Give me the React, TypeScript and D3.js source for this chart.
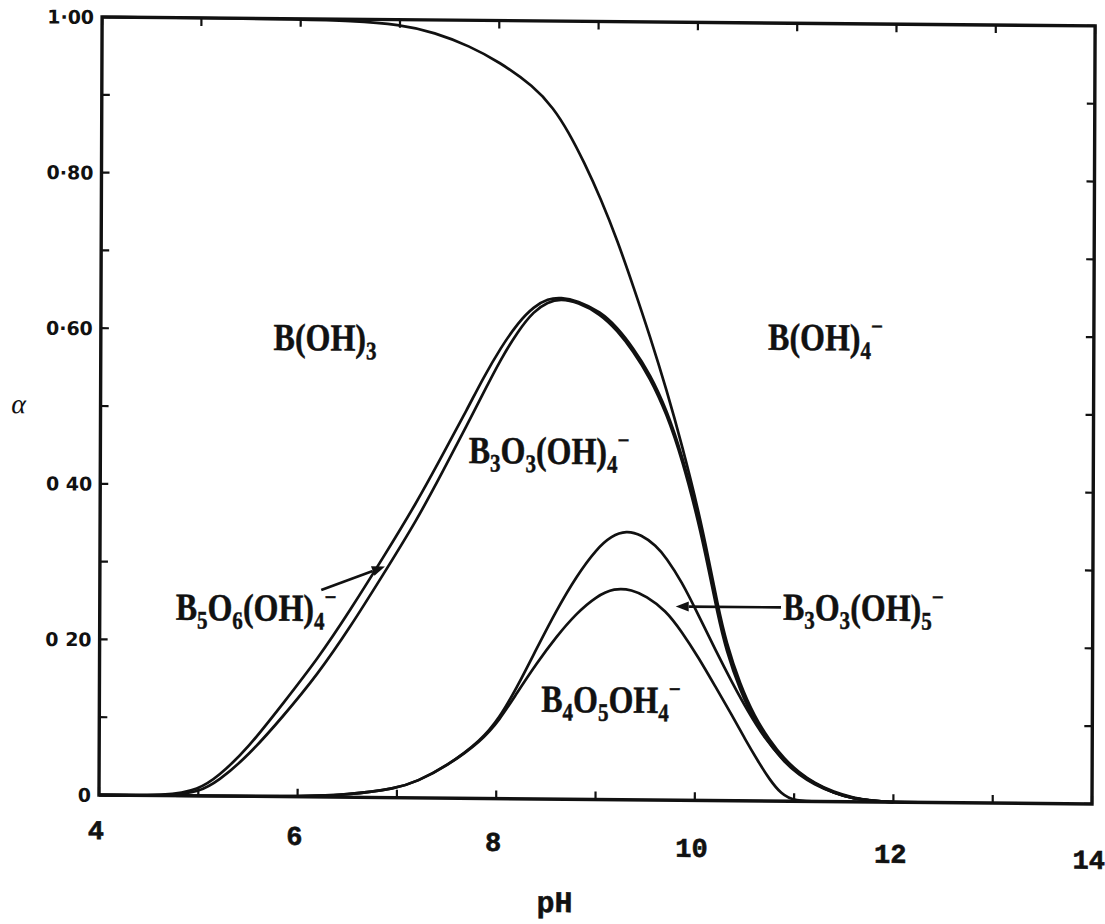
import React from "react";
import * as d3 from "d3";

// ---------- data ----------
const X_DOMAIN: [number, number] = [4, 14];
const Y_DOMAIN: [number, number] = [0, 1];
const xTickValues = d3.range(4, 15, 1);
const xLabelValues = [4, 6, 8, 10, 12, 14];
const yTickValues = d3.range(0, 11).map((i) => i / 10);
const yLabelValues = [1, 0.8, 0.6, 0.4, 0.2, 0];
const yLabelTexts = ["1·00", "0·80", "0·60", "0 40", "0 20", "0"];
const xAxisTitle = "pH";
const yAxisTitle = "α";

// B(OH)3 boundary
const boricAcid: [number, number][] = [
  [4.0, 1.0], [5.0, 1.0], [6.0, 0.999], [6.5, 0.998], [7.0, 0.994], [7.35, 0.984],
  [7.7, 0.967], [8.0, 0.947], [8.35, 0.916], [8.55, 0.888], [8.7, 0.858],
  [8.86, 0.819], [9.03, 0.772], [9.2, 0.718], [9.36, 0.66], [9.53, 0.596],
  [9.7, 0.527], [9.86, 0.455], [10.03, 0.37], [10.13, 0.31], [10.22, 0.253],
  [10.31, 0.203], [10.45, 0.15], [10.6, 0.108], [10.75, 0.078], [10.9, 0.054],
  [11.05, 0.037], [11.2, 0.024], [11.4, 0.012], [11.6, 0.005], [11.8, 0.0015],
  [12.0, 0], [12.3, 0],
];

// B5O6(OH)4- (outer line of the double curve)
const pentaborate: [number, number][] = [
  [4.0, 0], [4.7, 0], [5.0, 0.008], [5.2, 0.025], [5.5, 0.062], [5.85, 0.12],
  [6.2, 0.178], [6.52, 0.24], [6.85, 0.308], [7.19, 0.38], [7.45, 0.442],
  [7.7, 0.502], [7.85, 0.54], [8.03, 0.58], [8.2, 0.612], [8.36, 0.633],
  [8.5, 0.643], [8.63, 0.645], [8.8, 0.641], [9.03, 0.627], [9.2, 0.607],
  [9.36, 0.581], [9.53, 0.548], [9.7, 0.502], [9.86, 0.443], [10.03, 0.362],
  [10.13, 0.302], [10.22, 0.246], [10.31, 0.197], [10.45, 0.146], [10.6, 0.105],
  [10.75, 0.076], [10.9, 0.052], [11.05, 0.035], [11.2, 0.023], [11.4, 0.011],
  [11.6, 0.004], [11.8, 0.001], [12.0, 0],
];

// B3O3(OH)4- (inner line of the double curve)
const triborate: [number, number][] = [
  [4.0, 0], [4.75, 0], [5.0, 0.005], [5.2, 0.019], [5.5, 0.052], [5.85, 0.103],
  [6.2, 0.158], [6.52, 0.218], [6.85, 0.286], [7.19, 0.357], [7.45, 0.42],
  [7.7, 0.482], [7.85, 0.52], [8.03, 0.565], [8.2, 0.601], [8.36, 0.627],
  [8.5, 0.639], [8.63, 0.643], [8.8, 0.639], [9.03, 0.624], [9.2, 0.603],
  [9.36, 0.577], [9.53, 0.543], [9.7, 0.497], [9.86, 0.438], [10.03, 0.356],
  [10.13, 0.297], [10.22, 0.241], [10.31, 0.193], [10.45, 0.142], [10.6, 0.102],
  [10.75, 0.074], [10.9, 0.05], [11.05, 0.034], [11.2, 0.022], [11.4, 0.011],
  [11.6, 0.004], [11.8, 0.001], [12.0, 0],
];

// B3O3(OH)5 2-
const triborateDi: [number, number][] = [
  [4.0, 0], [6.0, 0], [6.5, 0.003], [7.0, 0.012], [7.2, 0.021], [7.5, 0.041],
  [7.85, 0.075], [8.03, 0.104], [8.2, 0.142], [8.4, 0.193], [8.6, 0.243],
  [8.8, 0.287], [9.0, 0.322], [9.15, 0.339], [9.3, 0.346], [9.45, 0.341],
  [9.6, 0.327], [9.7, 0.312], [9.86, 0.281], [10.03, 0.238], [10.2, 0.194],
  [10.37, 0.152], [10.54, 0.113], [10.7, 0.081], [10.87, 0.055], [11.05, 0.036],
  [11.2, 0.023], [11.4, 0.011], [11.6, 0.004], [11.8, 0.001], [12.0, 0],
];

// B4O5(OH)4 2-
const tetraborate: [number, number][] = [
  [4.0, 0], [6.0, 0], [6.5, 0.003], [7.0, 0.012], [7.2, 0.021], [7.5, 0.041],
  [7.85, 0.074], [8.03, 0.101], [8.2, 0.135], [8.4, 0.174], [8.6, 0.209],
  [8.8, 0.239], [9.0, 0.261], [9.18, 0.272], [9.36, 0.27], [9.5, 0.262],
  [9.7, 0.244], [9.86, 0.217], [10.03, 0.184], [10.2, 0.147], [10.37, 0.11],
  [10.5, 0.08], [10.64, 0.05], [10.75, 0.028], [10.87, 0.009], [11.0, 0], [11.3, 0],
];

const seriesList = [boricAcid, pentaborate, triborate, triborateDi, tetraborate];

// ---------- helpers ----------
type Part = { t: string; k: "n" | "sub" | "sup" };
function parseChem(s: string): Part[] {
  const out: Part[] = [];
  for (let i = 0; i < s.length; i++) {
    const c = s[i];
    if (c === "_") out.push({ t: s[++i], k: "sub" });
    else if (c === "^") out.push({ t: s[++i], k: "sup" });
    else {
      const last = out[out.length - 1];
      if (last && last.k === "n") last.t += c;
      else out.push({ t: c, k: "n" });
    }
  }
  return out;
}

function Chem({ x, y, text }: { x: number; y: number; text: string }) {
  const parts = parseChem(text);
  let cur = 0;
  return (
    <text
      transform={`translate(${x},${y}) scale(1,1.2)`}
      fontFamily="'Liberation Serif', 'Times New Roman', serif"
      fontWeight="bold"
      fontSize={32}
      fill="#111"
      stroke="#111"
      strokeWidth={0.4}
    >
      {parts.map((p, i) => {
        const target = p.k === "sub" ? 7 : p.k === "sup" ? -13 : 0;
        const dy = target - cur;
        cur = target;
        return (
          <tspan key={i} dy={dy} fontSize={p.k === "n" ? 32 : 21}>
            {p.t}
          </tspan>
        );
      })}
    </text>
  );
}

function Arrow({ x1, y1, x2, y2 }: { x1: number; y1: number; x2: number; y2: number }) {
  const ang = Math.atan2(y2 - y1, x2 - x1);
  const L = 13, Wd = 5;
  const bx = x2 - L * Math.cos(ang), by = y2 - L * Math.sin(ang);
  const px = -Math.sin(ang) * Wd, py = Math.cos(ang) * Wd;
  return (
    <g>
      <line x1={x1} y1={y1} x2={bx} y2={by} stroke="#111" strokeWidth={2.6} />
      <polygon points={`${x2},${y2} ${bx + px},${by + py} ${bx - px},${by - py}`} fill="#111" />
    </g>
  );
}

export default function App() {
  const x = d3.scaleLinear().domain(X_DOMAIN).range([99, 1092]);
  const y = d3.scaleLinear().domain(Y_DOMAIN).range([795, 17]);
  const line = d3
    .line<[number, number]>()
    .x((d) => x(d[0]))
    .y((d) => y(d[1]))
    .curve(d3.curveBasis);

  const [x0, x1] = x.range();
  const [yb, yt] = y.range();
  const tick = 8;

  const labels = [
    { text: "B(OH)_3", ph: 5.74, a: 0.574 },
    { text: "B(OH)_4^−", ph: 10.72, a: 0.58 },
    { text: "B_3O_3(OH)_4^−", ph: 7.71, a: 0.431 },
    { text: "B_5O_6(OH)_4^−", ph: 4.765, a: 0.226 },
    { text: "B_3O_3(OH)_5^−", ph: 10.88, a: 0.233 },
    { text: "B_4O_5OH_4^−", ph: 8.45, a: 0.112 },
  ];
  const arrows = [
    { from: [6.23, 0.266], to: [6.87, 0.297] },
    { from: [10.86, 0.249], to: [9.8, 0.249] },
  ];

  return (
    <svg
      width={1105}
      height={924}
      viewBox="0 0 1105 924"
      style={{ position: "absolute", left: 0, top: 0, background: "#fff" }}
    >
      <rect x={0} y={0} width={1105} height={924} fill="#fff" />
      <g transform="matrix(1,0.009,-0.004,1,3.18,-0.891)">
        {/* curves */}
        {seriesList.map((s, i) => (
          <path key={i} d={line(s) || ""} fill="none" stroke="#111" strokeWidth={2.7} strokeLinejoin="round" />
        ))}

        {/* frame */}
        <rect x={x0} y={yt} width={x1 - x0} height={yb - yt} fill="none" stroke="#111" strokeWidth={3.4} />

        {/* x ticks (bottom and top, inward) */}
        {xTickValues.map((v) => (
          <g key={"xt" + v}>
            <line x1={x(v)} x2={x(v)} y1={yb} y2={yb - tick} stroke="#111" strokeWidth={2.2} />
            <line x1={x(v)} x2={x(v)} y1={yt} y2={yt + tick} stroke="#111" strokeWidth={2.2} />
          </g>
        ))}
        {/* y ticks (left and right, inward) */}
        {yTickValues.map((v) => (
          <g key={"yt" + v}>
            <line x1={x0} x2={x0 + tick} y1={y(v)} y2={y(v)} stroke="#111" strokeWidth={2.2} />
            <line x1={x1} x2={x1 - tick} y1={y(v)} y2={y(v)} stroke="#111" strokeWidth={2.2} />
          </g>
        ))}

        {/* x tick labels */}
        {xLabelValues.map((v) => (
          <text
            key={"xl" + v}
            x={x(v) - 3}
            y={yb + 44 + 0.021 * (x(v) - x0)}
            textAnchor="middle"
            fontFamily="'Liberation Mono', 'Courier New', monospace"
            fontWeight="bold"
            fontSize={27}
            fill="#111"
            stroke="#111"
            strokeWidth={0.6}
          >
            {v}
          </text>
        ))}
        {/* y tick labels */}
        {yLabelValues.map((v, i) => (
          <text
            key={"yl" + v}
            x={x0 - 8}
            y={y(v) + 7}
            textAnchor="end"
            fontFamily="'DejaVu Sans', sans-serif"
            fontWeight="bold"
            fontSize={19}
            fill="#111"
          >
            {yLabelTexts[i]}
          </text>
        ))}

        {/* axis titles */}
        <text
          x={555}
          y={yb + 113}
          textAnchor="middle"
          fontFamily="'Liberation Mono', 'Courier New', monospace"
          fontWeight="bold"
          fontSize={30}
          fill="#111"
          stroke="#111"
          strokeWidth={0.5}
        >
          {xAxisTitle}
        </text>
        <text
          x={17}
          y={y(0.5) + 8}
          textAnchor="middle"
          fontFamily="'Liberation Serif', serif"
          fontStyle="italic"
          fontSize={28}
          fill="#111"
        >
          {yAxisTitle}
        </text>

        {/* species labels */}
        {labels.map((l, i) => (
          <Chem key={i} x={x(l.ph)} y={y(l.a)} text={l.text} />
        ))}
        {arrows.map((a, i) => (
          <Arrow key={i} x1={x(a.from[0])} y1={y(a.from[1])} x2={x(a.to[0])} y2={y(a.to[1])} />
        ))}
      </g>
    </svg>
  );
}
